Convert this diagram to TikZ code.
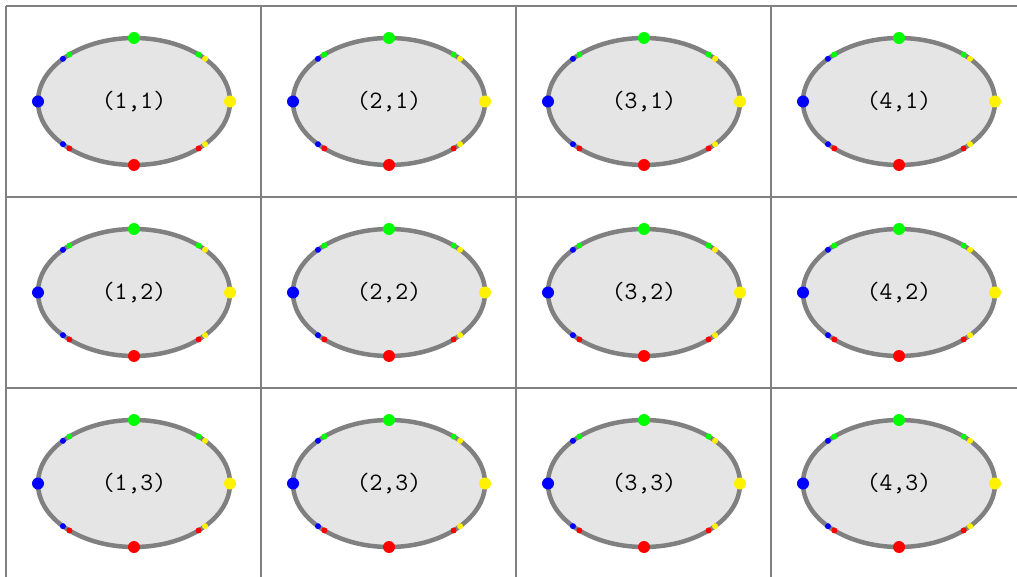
\documentclass[tikz,border=0pt]{standalone}
\usetikzlibrary{shapes.geometric}
\begin{document}
\begin{tikzpicture}[
    x=0.5pt, y=-0.5pt,
    font=\fontsize{12.5}{14}\selectfont\ttfamily,
    gridline/.style={draw=gray, line width=1pt},
    ring/.style={
        ellipse,
        draw=gray,
        fill=gray!20,
        line width=2.25pt,
        minimum width=96pt,
        minimum height=63.5pt,
        inner sep=0pt,
        outer sep=0pt
    },
    bigdot/.style={circle, fill=#1, inner sep=0pt, minimum size=6pt},
    smalldot/.style={circle, fill=#1, inner sep=0pt, minimum size=3pt}
]
\useasboundingbox (0,0) rectangle (1017,577);

% cell borders
\foreach \gx in {6,261,516,771} \draw[gridline] (\gx,6) -- (\gx,577);
\foreach \gy in {6,197,388} \draw[gridline] (6,\gy) -- (1017,\gy);

% one ellipse per cell
\foreach \i in {1,...,4} {
  \foreach \j in {1,2,3} {
    \node[ring] (ring-\i-\j) at ({134+255*(\i-1)},{101.5+191*(\j-1)}) {(\i,\j)};
    % dots near the diagonal anchors
    \node[smalldot=green]  (nwa-\i-\j) at (ring-\i-\j.144) {};
    \node[smalldot=blue]   (nwb-\i-\j) at (ring-\i-\j.149) {};
    \node[smalldot=green]  (nea-\i-\j) at (ring-\i-\j.36) {};
    \node[smalldot=yellow] (neb-\i-\j) at (ring-\i-\j.31) {};
    \node[smalldot=blue]   (swa-\i-\j) at (ring-\i-\j.211) {};
    \node[smalldot=red]    (swb-\i-\j) at (ring-\i-\j.216) {};
    \node[smalldot=red]    (sea-\i-\j) at (ring-\i-\j.324) {};
    \node[smalldot=yellow] (seb-\i-\j) at (ring-\i-\j.329) {};
    % dots on the main anchors
    \node[bigdot=green]  (n-\i-\j) at (ring-\i-\j.north) {};
    \node[bigdot=red]    (s-\i-\j) at (ring-\i-\j.south) {};
    \node[bigdot=blue]   (w-\i-\j) at (ring-\i-\j.west) {};
    \node[bigdot=yellow] (e-\i-\j) at (ring-\i-\j.east) {};
  }
}
\end{tikzpicture}
\end{document}
